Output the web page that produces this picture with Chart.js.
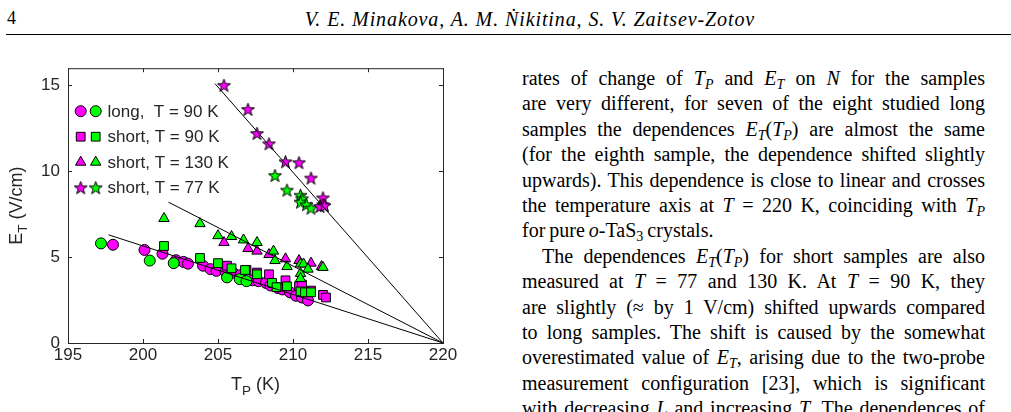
<!DOCTYPE html>
<html lang="en">
<head>
  <meta charset="utf-8">
  <title>E_T versus T_P</title>
  <style>
    body { margin: 0; background: #fff; }
    .page { position: relative; width: 1011px; height: 412px; overflow: hidden; font-family: "Liberation Serif", serif; color: #000; }
    .pageno { position: absolute; left: 7px; top: 8px; font-size: 18px; }
    .authors { position: absolute; left: 0; width: 1060px; top: 8px; text-align: center; font-style: italic; font-size: 20px; letter-spacing: 0.9px; }
    .rule { position: absolute; left: 6px; right: 0; top: 34px; border-top: 1.3px solid #000; }
    .plot { position: absolute; left: 0; top: 50px; }
    .text { position: absolute; left: 522px; top: 66px; width: 463px; font-size: 20px; word-spacing: -1px; }
    .text div { height: 25.4px; line-height: 25.4px; white-space: nowrap; text-align: justify; text-align-last: justify; }
    .text div.last { text-align-last: left; }
    .text div.indent { padding-left: 20px; }
    .text sub { font-size: 70%; vertical-align: -0.3em; line-height: 0; }
  </style>
</head>
<body>
<div class="page">
  <div class="pageno">4</div>
  <div class="authors">V. E. Minakova, A. M. Ṅikitina, S. V. Zaitsev-Zotov</div>
  <div class="rule"></div>

  <!-- chart -->
  <div class="plot"><canvas id="etChart" width="470" height="362"></canvas></div>

  <!-- right column text -->
  <div class="text">
    <div>rates of change of <i>T<sub>P</sub></i> and <i>E<sub>T</sub></i> on <i>N</i> for the samples</div>
    <div>are very different, for seven of the eight studied long</div>
    <div>samples the dependences <i>E<sub>T</sub></i>(<i>T<sub>P</sub></i>) are almost the same</div>
    <div>(for the eighth sample, the dependence shifted slightly</div>
    <div>upwards). This dependence is close to linear and crosses</div>
    <div>the temperature axis at <i>T</i> = 220 K, coinciding with <i>T<sub>P</sub></i></div>
    <div class="last">for pure <i>o</i>-TaS<sub>3</sub> crystals.</div>
    <div class="indent">The dependences <i>E<sub>T</sub></i>(<i>T<sub>P</sub></i>) for short samples are also</div>
    <div>measured at <i>T</i> = 77 and 130 K. At <i>T</i> = 90 K, they</div>
    <div>are slightly (≈ by 1 V/cm) shifted upwards compared</div>
    <div>to long samples. The shift is caused by the somewhat</div>
    <div>overestimated value of <i>E<sub>T</sub></i>, arising due to the two-probe</div>
    <div>measurement configuration [23], which is significant</div>
    <div>with decreasing <i>L</i> and increasing <i>T</i>. The dependences of</div>
  </div>
</div>

<script src="https://cdn.jsdelivr.net/npm/chart.js"></script>
<script>
  // axis ticks
  const xTicks = [195, 200, 205, 210, 215, 220];
  const yTicks = [0, 5, 10, 15];

  // long samples, T = 90 K  [T_P, E_T]
  const longMagenta = [[198.0,5.72],[200.1,5.42],[201.3,5.2],[202.2,4.82],[202.7,4.72],[203.0,4.62],
    [204.0,4.5],[204.5,4.3],[204.9,4.2],[205.5,4.15],[206.0,4.1],[206.5,3.95],[207.3,3.65],[207.7,3.6],
    [208.2,3.5],[208.5,3.35],[209.0,3.2],[209.3,3.12],[209.8,2.95],[210.2,2.75],[210.6,2.65],[211.0,2.48]];
  const longGreen = [[197.2,5.8],[200.45,4.8],[202.05,4.65],[205.6,3.82],[206.45,3.72],[206.9,3.6]];

  // short samples, T = 90 K
  const short90Magenta = [[205.6,4.5],[206.9,4.25],[207.6,4.1],[208.4,4.0],[209.5,3.65],[210.4,3.3],
    [210.6,3.4],[211.2,3.05],[212.0,2.8],[212.2,2.65]];
  const short90Green = [[201.4,5.65],[203.8,4.95],[205.0,4.65],[205.9,4.35],[206.8,4.25],[207.6,4.0],
    [208.6,3.5],[208.9,3.25],[209.6,3.3],[210.5,3.0],[210.8,2.95],[211.2,2.95]];

  // short samples, T = 130 K
  const short130Magenta = [[205.4,5.85],[207.0,5.5],[207.6,5.35],[208.4,5.15],[209.5,4.9],[210.4,4.8],
    [211.2,4.65],[211.9,4.45]];
  const short130Green = [[201.4,7.25],[203.8,6.95],[205.0,6.25],[205.9,6.2],[206.7,6.0],[207.6,5.85],
    [208.7,5.35],[208.8,4.8],[209.6,4.45],[210.5,4.6],[210.7,4.6],[210.5,4.05],[210.5,3.75],[211.0,4.3],[212.0,4.4]];

  // short samples, T = 77 K
  const short77Magenta = [[205.4,15.0],[207.0,13.6],[207.6,12.2],[208.4,11.6],[209.5,10.55],[210.4,10.5],
    [211.2,9.6],[212.0,8.45],[212.0,8.05],[211.8,7.95],[212.1,8.0]];
  const short77Green = [[208.8,9.75],[209.6,8.9],[210.5,8.6],[210.6,8.4],[210.5,8.2],[210.9,8.05],[211.2,7.85]];

  // straight lines to T = 220 K
  const fitLong = [[197.7,6.3],[220,0]];
  const fit130 = [[201.7,8.2],[220,0]];
  const fit77 = [[204.8,15.1],[220,0]];

  const legendLabels = ["long,  T = 90 K", "short, T = 90 K", "short, T = 130 K", "short, T = 77 K"];

  const magenta = "#ff00ff";
  const green = "#00ff00";
  const axisColor = "#262626";
  const sansFont = "'Liberation Sans', Arial, sans-serif";

  // filled pentagram, Chart.js 'star' is only an asterisk
  function starImage(fill) {
    const c = document.createElement("canvas");
    c.width = 15; c.height = 15;
    const g = c.getContext("2d");
    g.beginPath();
    for (let i = 0; i < 10; i++) {
      const r = i % 2 ? 2.7 : 6.8;
      const a = -Math.PI / 2 + i * Math.PI / 5;
      g.lineTo(7.5 + r * Math.cos(a), 8 + r * Math.sin(a));
    }
    g.closePath();
    g.fillStyle = fill; g.fill();
    g.strokeStyle = "#000"; g.lineWidth = 1; g.stroke();
    return c;
  }
  const starM = starImage(magenta);
  const starG = starImage(green);

  function pts(a) { return a.map(p => ({ x: p[0], y: p[1] })); }
  function markers(data, style, color, r) {
    return { data: pts(data), pointStyle: style, pointRadius: r, pointHoverRadius: r,
      pointBackgroundColor: color, pointBorderColor: "#000", pointBorderWidth: 1, showLine: false };
  }
  function fitLine(data) {
    return { data: pts(data), showLine: true, borderColor: "#000", borderWidth: 1, pointRadius: 0 };
  }

  // legend rows: [magenta marker, green marker]
  const legendMarks = [
    [{ pointStyle: "circle", radius: 5.5, fill: magenta }, { pointStyle: "circle", radius: 5.5, fill: green }],
    [{ pointStyle: "rect", radius: 6.2, fill: magenta }, { pointStyle: "rect", radius: 6.2, fill: green }],
    [{ pointStyle: "triangle", radius: 6, fill: magenta }, { pointStyle: "triangle", radius: 6, fill: green }],
    [{ pointStyle: starM, radius: 6, fill: magenta }, { pointStyle: starG, radius: 6, fill: green }]
  ];

  function drawParts(ctx, parts, x, y, size) {
    // parts: [text, isSub]
    const widths = parts.map(p => {
      ctx.font = (p[1] ? size * 0.75 : size) + "px " + sansFont;
      return ctx.measureText(p[0]).width;
    });
    let cx = x - widths.reduce((s, w) => s + w, 0) / 2;
    parts.forEach((p, i) => {
      ctx.font = (p[1] ? size * 0.75 : size) + "px " + sansFont;
      ctx.fillText(p[0], cx, p[1] ? y + 5 : y);
      cx += widths[i];
    });
  }

  const framePlugin = {
    id: "frame",
    afterDraw(chart) {
      const ctx = chart.ctx;
      const a = chart.chartArea;
      const xs = chart.scales.x, ys = chart.scales.y;
      const tick = 4;
      ctx.save();
      ctx.strokeStyle = axisColor;
      ctx.lineWidth = 1;
      ctx.strokeRect(a.left + 0.5, a.top + 0.5, a.right - a.left, a.bottom - a.top);
      ctx.beginPath();
      xTicks.forEach(v => {
        const px = Math.round(xs.getPixelForValue(v)) + 0.5;
        ctx.moveTo(px, a.bottom); ctx.lineTo(px, a.bottom - tick);
        ctx.moveTo(px, a.top); ctx.lineTo(px, a.top + tick);
      });
      yTicks.forEach(v => {
        const py = Math.round(ys.getPixelForValue(v)) + 0.5;
        ctx.moveTo(a.left, py); ctx.lineTo(a.left + tick, py);
        ctx.moveTo(a.right, py); ctx.lineTo(a.right - tick, py);
      });
      ctx.stroke();

      // axis titles
      ctx.fillStyle = axisColor;
      ctx.textBaseline = "alphabetic";
      ctx.textAlign = "left";
      drawParts(ctx, [["T", false], ["P", true], [" (K)", false]], (a.left + a.right) / 2, 340, 18);
      ctx.save();
      ctx.translate(22, (a.top + a.bottom) / 2);
      ctx.rotate(-Math.PI / 2);
      drawParts(ctx, [["E", false], ["T", true], [" (V/cm)", false]], 0, 0, 18);
      ctx.restore();

      // legend
      ctx.font = "17px " + sansFont;
      ctx.textBaseline = "middle";
      legendLabels.forEach((label, i) => {
        const y = a.top + 43 + i * 25.5;
        legendMarks[i].forEach((m, j) => {
          ctx.fillStyle = m.fill;
          ctx.strokeStyle = "#000";
          ctx.lineWidth = 1;
          Chart.helpers.drawPoint(ctx, { pointStyle: m.pointStyle, radius: m.radius, borderWidth: 1, rotation: 0 },
            a.left + 12.7 + j * 15, y);
        });
        ctx.fillStyle = axisColor;
        ctx.fillText(label, a.left + 39.5, y + 1);
      });
      ctx.restore();
    }
  };

  const tickFont = { family: sansFont, size: 17 };

  new Chart(document.getElementById("etChart"), {
    type: "scatter",
    data: {
      datasets: [
        fitLine(fitLong),
        fitLine(fit130),
        fitLine(fit77),
        markers(short77Magenta, starM, magenta, 6),
        markers(short77Green, starG, green, 6),
        markers(short130Green, "triangle", green, 6),
        markers(short130Magenta, "triangle", magenta, 6),
        markers(short90Green, "rect", green, 6.2),
        markers(short90Magenta, "rect", magenta, 6.2),
        markers(longGreen, "circle", green, 5.5),
        markers(longMagenta, "circle", magenta, 5.5)
      ]
    },
    options: {
      responsive: false,
      animation: false,
      layout: { padding: { top: 17, right: 27, left: 0, bottom: 0 } },
      plugins: { legend: { display: false }, tooltip: { enabled: false } },
      scales: {
        x: {
          type: "linear", min: 195, max: 220,
          grid: { display: false, drawTicks: false },
          border: { display: false },
          ticks: { font: tickFont, color: axisColor, padding: 2, maxRotation: 0 },
          afterBuildTicks: s => { s.ticks = xTicks.map(v => ({ value: v })); },
          afterFit: s => { s.height = 69; }
        },
        y: {
          type: "linear", min: 0, max: 16,
          grid: { display: false, drawTicks: false },
          border: { display: false },
          ticks: { font: tickFont, color: axisColor, padding: 8 },
          afterBuildTicks: s => { s.ticks = yTicks.map(v => ({ value: v })); },
          afterFit: s => { s.width = 68; }
        }
      }
    },
    plugins: [framePlugin]
  });
</script>
</body>
</html>
